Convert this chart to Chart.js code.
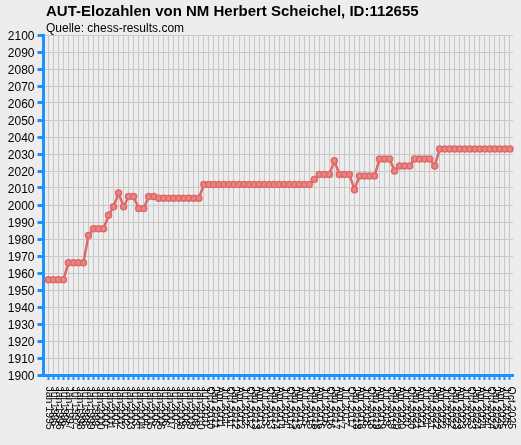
<!DOCTYPE html>
<html>
<head>
<meta charset="utf-8">
<script src="https://cdn.jsdelivr.net/npm/chart.js@4.4.1/dist/chart.umd.min.js"></script>
<style>
html, body { margin: 0; padding: 0; background: #ededed; }
#wrap { position: relative; width: 521px; height: 445px; overflow: hidden; background: #ededed; }
#chart { position: absolute; left: 0; top: 0; }
#title { position: absolute; left: 46px; top: 2px; font: bold 15px "Liberation Sans", Arial, sans-serif; color: #000; white-space: nowrap; }
#subtitle { position: absolute; left: 46px; top: 21px; font: 12px "Liberation Sans", Arial, sans-serif; color: #000; white-space: nowrap; }
</style>
</head>
<body>
<div id="wrap">
  <canvas id="chart" width="521" height="445"></canvas>
  <div id="title">AUT-Elozahlen von NM Herbert Scheichel, ID:112655</div>
  <div id="subtitle">Quelle: chess-results.com</div>
</div>
<script>
// ---- data ----
const categories = [
  'Jan 1995','Jul 1995','Jan 1996','Jul 1996','Jan 1997','Jul 1997','Jan 1998','Jul 1998',
  'Jan 1999','Jul 1999','Jan 2000','Jul 2000','Jan 2001','Jul 2001','Jan 2002','Jul 2002',
  'Jan 2003','Jul 2003','Jan 2004','Jul 2004','Jan 2005','Jul 2005','Jan 2006','Jul 2006',
  'Jan 2007','Jul 2007','Jan 2008','Jul 2008','Jan 2009','Jul 2009','Jan 2010','Jul 2010',
  'Oct 2010',
  'Jan 2011','Apr 2011','Jul 2011','Oct 2011',
  'Jan 2012','Apr 2012','Jul 2012','Oct 2012',
  'Jan 2013','Apr 2013','Jul 2013','Oct 2013',
  'Jan 2014','Apr 2014','Jul 2014','Oct 2014',
  'Jan 2015','Apr 2015','Jul 2015','Oct 2015',
  'Jan 2016','Apr 2016','Jul 2016','Oct 2016',
  'Jan 2017','Apr 2017','Jul 2017','Oct 2017',
  'Jan 2018','Apr 2018','Jul 2018','Oct 2018',
  'Jan 2019','Apr 2019','Jul 2019','Oct 2019',
  'Jan 2020','Apr 2020','Jul 2020','Oct 2020',
  'Jan 2021','Apr 2021','Jul 2021','Oct 2021',
  'Jan 2022','Apr 2022','Jul 2022','Oct 2022',
  'Jan 2023','Apr 2023','Jul 2023','Oct 2023',
  'Jan 2024','Apr 2024','Jul 2024','Oct 2024',
  'Jan 2025','Apr 2025','Jul 2025','Oct 2025'
];

const eloValues = [
  1956, 1956, 1956, 1956,
  1966, 1966, 1966, 1966,
  1982,
  1986, 1986, 1986,
  1994, 1999, 2007, 1999,
  2005, 2005,
  1998, 1998,
  2005, 2005,
  2004, 2004, 2004, 2004, 2004, 2004, 2004, 2004, 2004,
  2012, 2012, 2012, 2012, 2012, 2012, 2012, 2012, 2012, 2012, 2012,
  2012, 2012, 2012, 2012, 2012, 2012, 2012, 2012, 2012, 2012, 2012,
  2015,
  2018, 2018, 2018,
  2026,
  2018, 2018, 2018,
  2009,
  2017, 2017, 2017, 2017,
  2027, 2027, 2027,
  2020,
  2023, 2023, 2023,
  2027, 2027, 2027, 2027,
  2023,
  2033, 2033, 2033, 2033, 2033, 2033, 2033, 2033,
  2033, 2033, 2033, 2033, 2033, 2033, 2033
];

const yMin = 1900;
const yMax = 2100;
const yStep = 10;

// ---- styling ----
const FONT = '"Liberation Sans", Arial, sans-serif';
const AXIS_BLUE = '#1e90ff';
const GRID_GREY = '#c8c8c8';
const LINE_RED = '#e06868';
const POINT_RED = '#e78585';

// category padding (in category units) left/right of first/last point
const xPadStart = 0.96;
const xPadEnd = 0.6;

const xLabelPlugin = {
  id: 'xLabelsDown',
  afterDraw(chart) {
    const s = chart.scales.x;
    const ctx = chart.ctx;
    ctx.save();
    ctx.font = '10.5px ' + FONT;
    ctx.fillStyle = '#000';
    ctx.textAlign = 'left';
    ctx.textBaseline = 'middle';
    const y0 = s.top + 11.5;
    s.ticks.forEach((t, i) => {
      const x = s.getPixelForTick(i);
      ctx.save();
      ctx.translate(x + 1, y0);
      ctx.rotate(Math.PI / 2);
      ctx.fillText(categories[t.value], 0, 0);
      ctx.restore();
    });
    ctx.restore();
  }
};

new Chart(document.getElementById('chart').getContext('2d'), {
  type: 'line',
  data: {
    labels: categories,
    datasets: [{
      data: eloValues,
      borderColor: LINE_RED,
      borderWidth: 2.5,
      backgroundColor: POINT_RED,
      pointBackgroundColor: POINT_RED,
      pointBorderColor: LINE_RED,
      pointBorderWidth: 1.5,
      pointRadius: 3,
      tension: 0,
      fill: false
    }]
  },
  options: {
    responsive: false,
    animation: false,
    devicePixelRatio: 1,
    layout: { padding: { top: 35, right: 8, bottom: 0, left: 0 } },
    plugins: {
      legend: { display: false },
      tooltip: { enabled: false },
      title: { display: false }
    },
    scales: {
      x: {
        type: 'category',
        offset: false,
        grid: {
          color: GRID_GREY,
          lineWidth: 1,
          offset: false,
          drawTicks: true,
          tickLength: 5,
          tickColor: AXIS_BLUE,
          tickWidth: 2
        },
        border: { color: AXIS_BLUE, width: 3 },
        ticks: { display: false, autoSkip: false },
        afterBuildTicks(scale) {
          const n = scale.getLabels().length;
          scale._startValue = -xPadStart;
          scale._valueRange = (n - 1) + xPadStart + xPadEnd;
        },
        afterFit(scale) { scale.height = 70; }
      },
      y: {
        min: yMin,
        max: yMax,
        grid: {
          color: GRID_GREY,
          lineWidth: 1,
          drawTicks: true,
          tickLength: 6,
          tickColor: AXIS_BLUE,
          tickWidth: 3
        },
        border: { color: AXIS_BLUE, width: 3 },
        ticks: {
          stepSize: yStep,
          autoSkip: false,
          color: '#000',
          font: { family: FONT, size: 12 },
          padding: 3,
          labelOffset: 1.5,
          callback: (v) => String(v)
        },
        afterFit(scale) { scale.width = 43.5; }
      }
    }
  },
  plugins: [xLabelPlugin]
});
</script>
</body>
</html>
